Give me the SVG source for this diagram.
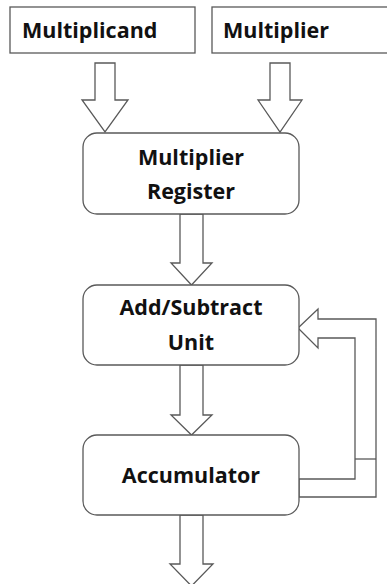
<svg xmlns="http://www.w3.org/2000/svg" width="387" height="584" viewBox="0 0 387 584">
<style>
.box{fill:#fff;stroke:#595959;stroke-width:1.3}
.arr{fill:#fff;stroke:#595959;stroke-width:1.3;stroke-linejoin:miter}
.ln{fill:none;stroke:#595959;stroke-width:1.3}
text{font-family:"Open Sans","DejaVu Sans",sans-serif;font-weight:700;font-size:21.5px;fill:#111}
.c{text-anchor:middle}
</style>
<rect width="387" height="584" fill="#fff"/>
<g id="connectors">
<polygon class="arr" points="95,63 115,63 115,100 128,100 105,132 82,100 95,100"/>
<polygon class="arr" points="270,63 290,63 290,100 302,100 280,132 258,100 270,100"/>
<polygon class="arr" points="180,214 203,214 203,263 212,263 191.5,285 171,263 180,263"/>
<polygon class="arr" points="180,365 203,365 203,415 212,415 191.5,435 171,415 180,415"/>
<polygon class="arr" points="180,515 203,515 203,564 213,564 191.5,586 170,564 180,564"/>
<polygon class="arr" points="299,497 376,497 376,319 318,319 318,309 298,328 318,348 318,338 355,338 355,479 299,479"/>
<line class="ln" x1="355" y1="459" x2="376" y2="459"/>
</g>
<g id="multiplicand">
<rect class="box" x="10" y="7" width="185" height="46"/>
<text x="22" y="38">Multiplicand</text>
</g>
<g id="multiplier">
<rect class="box" x="212" y="7" width="180" height="46"/>
<text x="223" y="38">Multiplier</text>
</g>
<g id="multiplier-register">
<rect class="box" x="83" y="133" width="216" height="81" rx="14"/>
<text class="c" x="191" y="165">Multiplier</text>
<text class="c" x="191" y="199">Register</text>
</g>
<g id="add-subtract">
<rect class="box" x="83" y="285" width="216" height="80" rx="14"/>
<text class="c" x="191" y="315">Add/Subtract</text>
<text class="c" x="191" y="350">Unit</text>
</g>
<g id="accumulator">
<rect class="box" x="83" y="435" width="216" height="80" rx="14"/>
<text class="c" x="191" y="483">Accumulator</text>
</g>
</svg>
